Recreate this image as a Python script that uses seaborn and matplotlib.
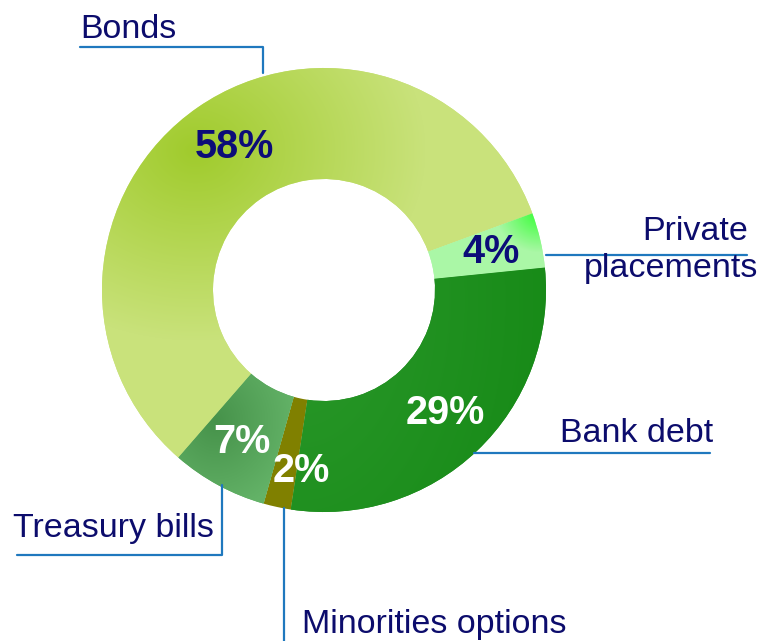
import numpy as np
import matplotlib
matplotlib.use("Agg")
import matplotlib.pyplot as plt
import matplotlib.colors as mcolors
import seaborn as sns

# data
categories = ["Bonds", "Private\nplacements", "Bank debt", "Minorities options", "Treasury bills"]
shares = [58, 4, 29, 2, 7]
pct_labels = ["58%", "4%", "29%", "2%", "7%"]
colors = ["#C8E27A", "#A9F7A4", "#228B22", "#808000", "#5AAD5E"]
pct_colors = ["#0C0C78", "#0C0C78", "white", "white", "white"]

sns.set_theme(style="white")
plt.rcParams["font.family"] = ["Liberation Sans", "DejaVu Sans"]

W, H = 766, 641
NAVY = "#0C0C6C"
LINE = "#1F78BE"

fig = plt.figure(figsize=(W / 100, H / 100), dpi=100)
ax = fig.add_axes([0, 0, 1, 1])

cx, cy, R = 324, H - 290, 222
wedges, _ = ax.pie(shares, colors=colors, startangle=229, counterclock=False,
                   radius=R, center=(cx, cy),
                   wedgeprops=dict(width=R / 2, linewidth=0))
ax.set_xlim(0, W)
ax.set_ylim(0, H)
ax.set_aspect("equal")
ax.axis("off")

# soft gradients like the original slide
ys, xs = np.mgrid[0:H, 0:W]


def shade(wedge, c0, c1, focus, spread):
    d = np.hypot((xs - focus[0]) / spread[0], (ys - focus[1]) / spread[1])
    t = np.clip(d, 0, 1)[..., None]
    img = np.array(mcolors.to_rgb(c0)) * (1 - t) + np.array(mcolors.to_rgb(c1)) * t
    im = ax.imshow(img, extent=(0, W, 0, H), origin="upper", zorder=1.5,
                   interpolation="bilinear")
    im.set_clip_path(wedge)


shade(wedges[0], "#A0CB2C", "#C9E27B", (195, 150), (230, 190))
shade(wedges[1], "#33FF33", "#AAF7A6", (540, 212), (45, 40))
shade(wedges[2], "#2A982A", "#178A17", (300, 300), (260, 400))
shade(wedges[4], "#46924A", "#63B267", (215, 420), (80, 90))
ax.set_xlim(0, W)
ax.set_ylim(0, H)

# percentage labels
rfac = [0.76, 0.77, 0.78, 0.82, 0.78]
nudge = [-2.5, 0, 1, 5, 0]
for w, lab, col, rf, dn in zip(wedges, pct_labels, pct_colors, rfac, nudge):
    ang = np.deg2rad((w.theta1 + w.theta2) / 2 + dn)
    ax.text(cx + rf * R * np.cos(ang), cy + rf * R * np.sin(ang), lab,
            ha="center", va="center", fontsize=28.5, fontweight="bold",
            color=col, zorder=3)

# category labels with leader lines
lw = 1.6
fs = 24.5
ax.text(80, H - 38, categories[0], ha="left", va="baseline", fontsize=fs, color=NAVY)
ax.plot([80, 263, 263], [H - 47, H - 47, H - 73], color=LINE, lw=lw, zorder=2)

first, second = categories[1].split("\n")
ax.text(748, H - 240, first, ha="right", va="baseline", fontsize=fs, color=NAVY)
ax.text(758, H - 277, second, ha="right", va="baseline", fontsize=fs, color=NAVY)
ax.plot([546, 747], [H - 255, H - 255], color=LINE, lw=lw, zorder=2)

ax.text(713, H - 442, categories[2], ha="right", va="baseline", fontsize=fs, color=NAVY)
ax.plot([474, 710], [H - 453, H - 453], color=LINE, lw=lw, zorder=2)

ax.text(302, H - 633, categories[3], ha="left", va="baseline", fontsize=fs, color=NAVY)
ax.plot([284, 284], [H - 508, 0], color=LINE, lw=lw, zorder=2)

ax.text(13, H - 537, categories[4], ha="left", va="baseline", fontsize=fs, color=NAVY)
ax.plot([17, 222, 222], [H - 555, H - 555, H - 485], color=LINE, lw=lw, zorder=2)

fig.savefig("out.png", dpi=100, facecolor="white")
